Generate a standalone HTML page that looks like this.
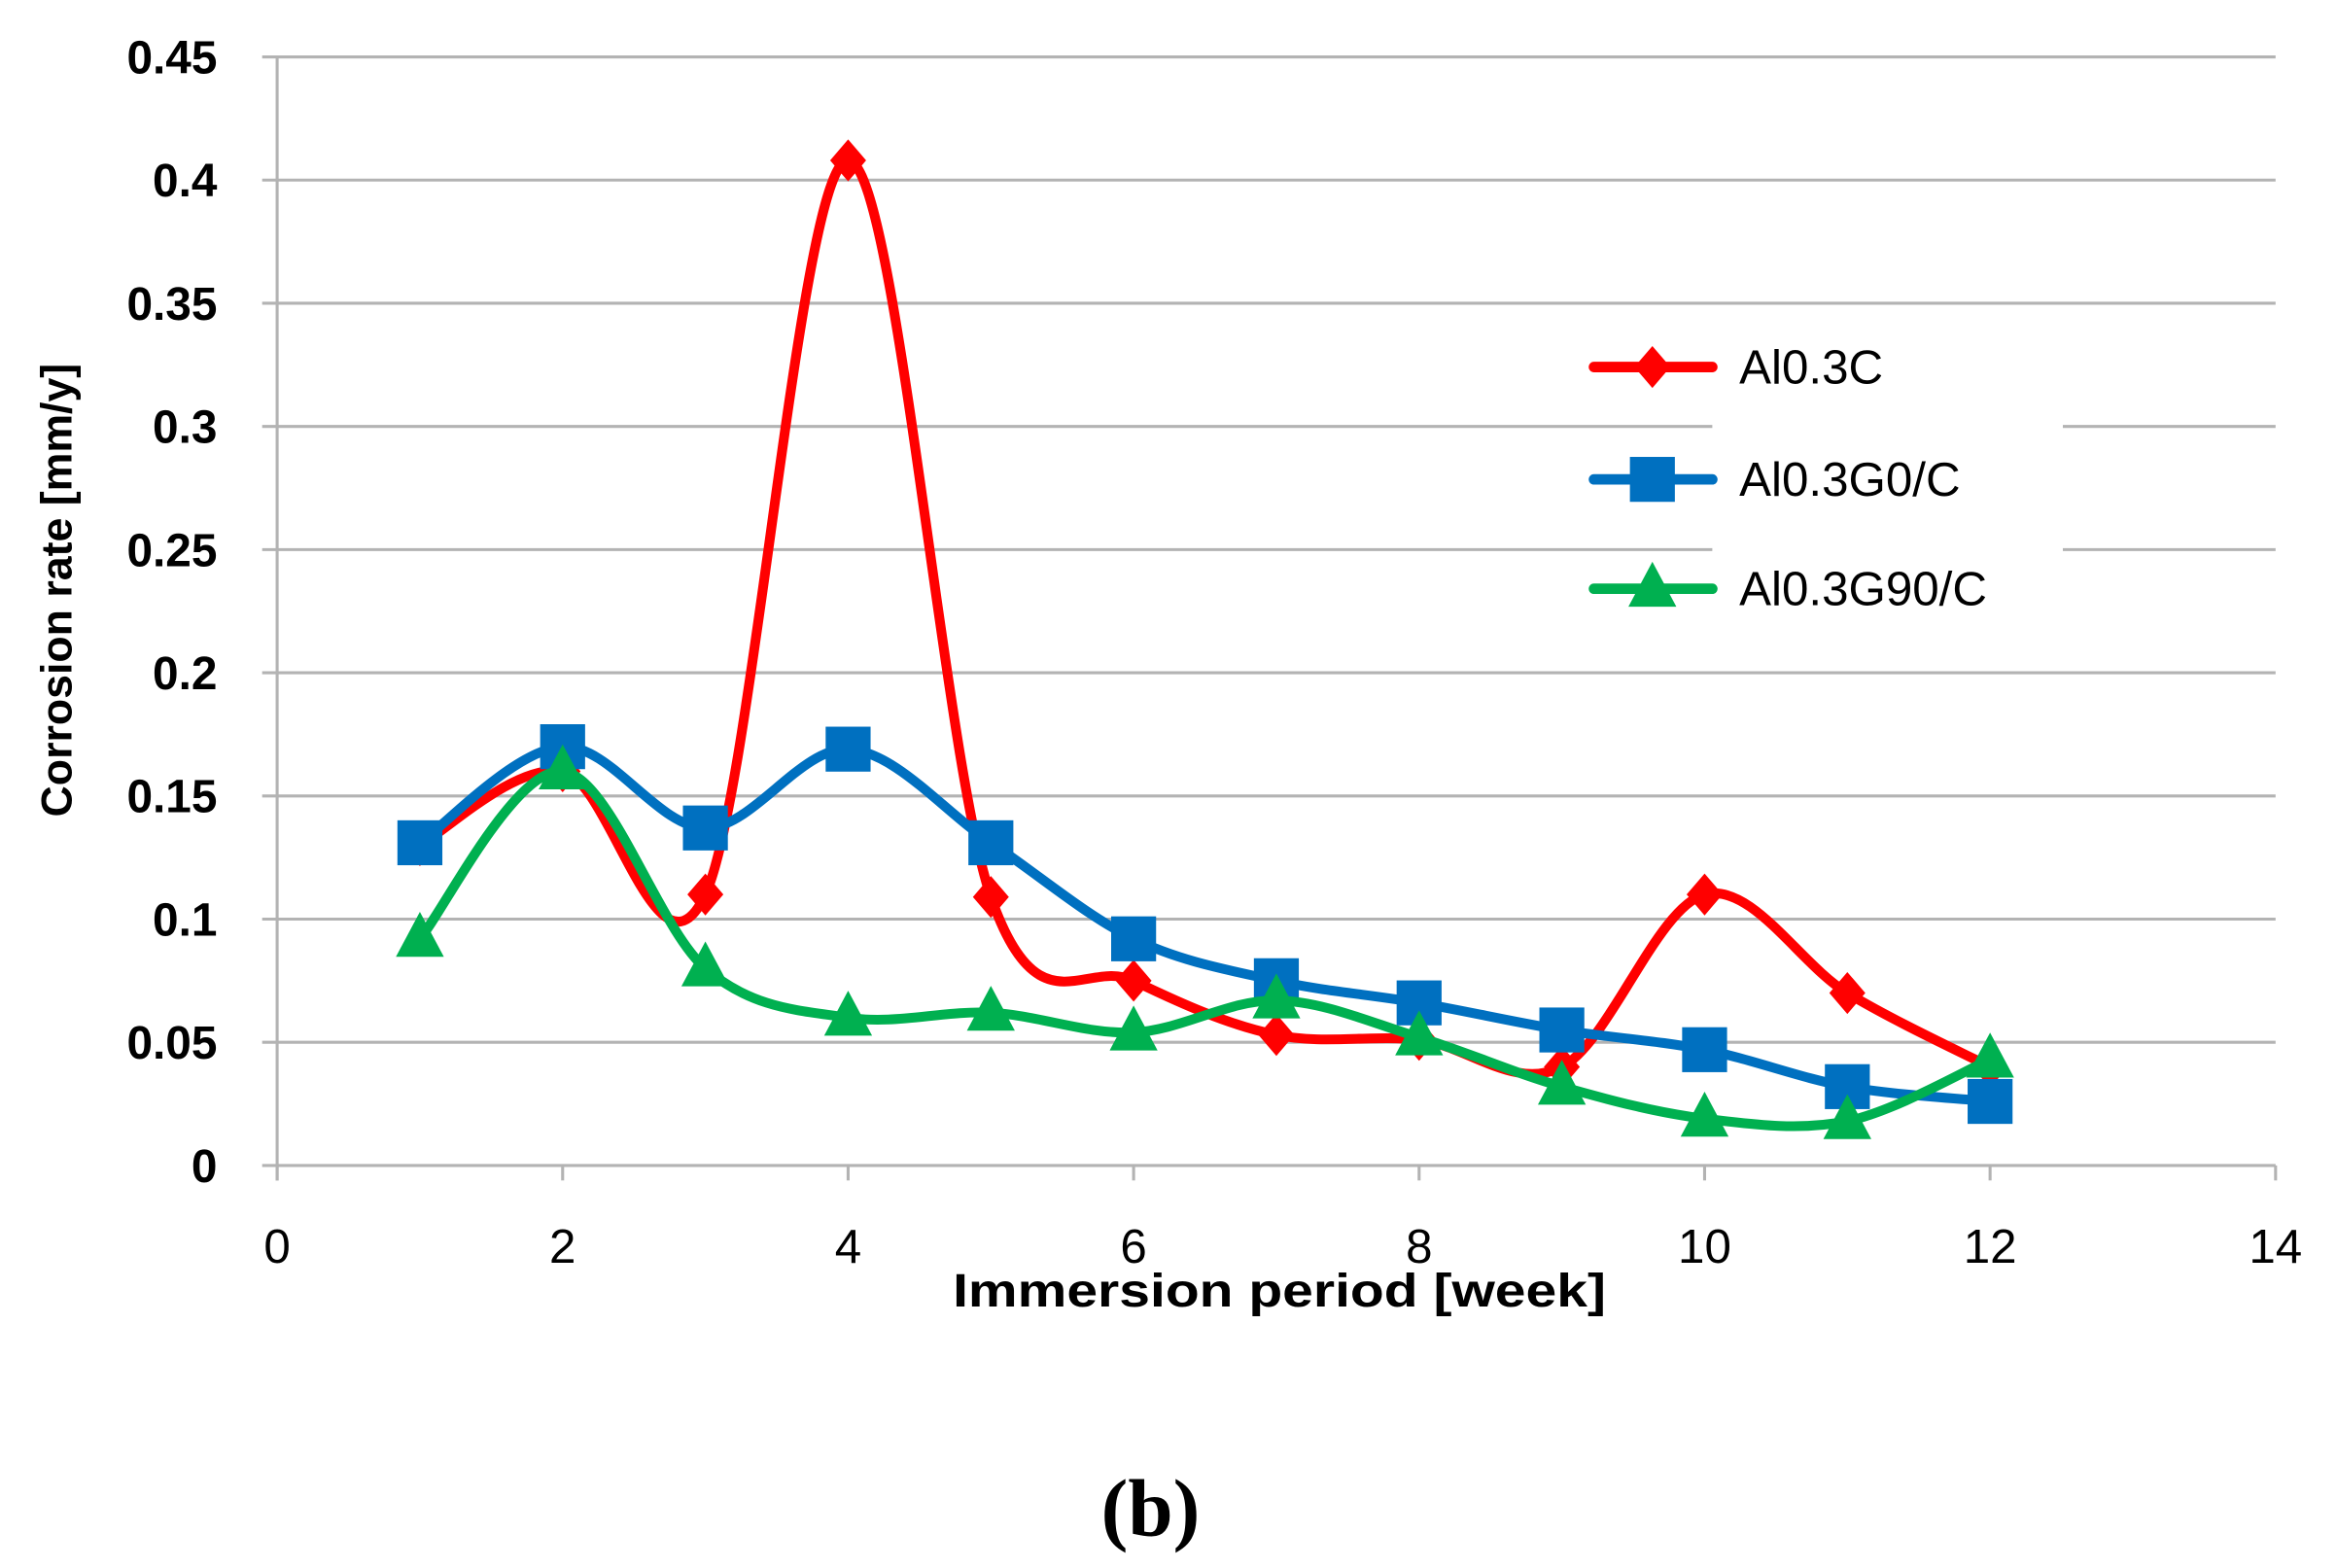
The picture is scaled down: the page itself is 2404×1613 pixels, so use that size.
<!DOCTYPE html>
<html><head><meta charset="utf-8"><style>
html,body{margin:0;padding:0;background:#fff;}
svg{display:block;}
text{font-family:"Liberation Sans","DejaVu Sans",sans-serif;}
</style></head><body>
<svg id="chart" width="2404" height="1613" viewBox="0 0 1560 1046.7" xmlns="http://www.w3.org/2000/svg">
<g id="grid"></g>
<g id="axes"></g>
<g id="series"></g>
<rect x="1143" y="275" width="234" height="110" fill="#fff"/>
<g id="legend"></g>
<text x="40" y="394" transform="rotate(-90 40 394)" text-anchor="middle" dominant-baseline="middle" font-size="29" font-weight="bold">Corrosion  rate [mm/y]</text>
<text x="854" y="872" text-anchor="middle" font-size="31" font-weight="bold" textLength="436" lengthAdjust="spacingAndGlyphs">Immersion period [week]</text>
<text x="768" y="1025" text-anchor="middle" font-size="54" font-weight="bold" style="font-family:'Liberation Serif',serif">(b)</text>
</svg>
<script>
const weeks = [1,2,3,4,5,6,7,8,9,10,11,12];
const al03c = [0.13,0.16,0.11,0.408,0.109,0.075,0.053,0.051,0.04,0.11,0.07,0.04];
const al03g0c = [0.131,0.17,0.137,0.169,0.131,0.092,0.075,0.066,0.055,0.047,0.032,0.026];
const al03g90c = [0.092,0.16,0.08,0.06,0.062,0.054,0.067,0.052,0.032,0.019,0.018,0.043];
const yTicks = [0,0.05,0.1,0.15,0.2,0.25,0.3,0.35,0.4,0.45];
const yTickLabels = ["0","0.05","0.1","0.15","0.2","0.25","0.3","0.35","0.4","0.45"];
const xTicks = [0,2,4,6,8,10,12,14];
const seriesNames = ["Al0.3C","Al0.3G0/C","Al0.3G90/C"];

const NS="http://www.w3.org/2000/svg";
const X0=185,X1=1519,Y0=778,Y1=38;
const xs=v=>X0+(v-0)/(14-0)*(X1-X0);
const ys=v=>Y0-(v-0)/(0.45-0)*(Y0-Y1);
function mk(tag,attrs,parent){const e=document.createElementNS(NS,tag);for(const k in attrs)e.setAttribute(k,attrs[k]);parent.appendChild(e);return e;}
const grid=document.getElementById('grid'),axes=document.getElementById('axes'),ser=document.getElementById('series'),leg=document.getElementById('legend');

yTicks.forEach((t,i)=>{
  const l=mk('line',{x1:175,x2:X1,y1:ys(t),y2:ys(t),stroke:'#b3b3b3','stroke-width':2},i===0?axes:grid);
  
  
  const tx=mk('text',{x:145,y:ys(t)+11,'text-anchor':'end','font-size':31,'font-weight':'bold'},axes);
  tx.textContent=yTickLabels[i];
  
  
});
const ya=mk('line',{x1:X0,x2:X0,y1:Y1,y2:Y0+10,stroke:'#b3b3b3','stroke-width':2},axes);


xTicks.forEach(t=>{
  const l=mk('line',{x1:xs(t),x2:xs(t),y1:Y0,y2:Y0+10,stroke:'#b3b3b3','stroke-width':2},axes);
  
  
  const tx=mk('text',{x:xs(t),y:843,'text-anchor':'middle','font-size':32},axes);
  tx.textContent=String(t);
  
  
});

function smooth(pts){
  let d=`M${pts[0][0]},${pts[0][1]}`;
  for(let i=0;i<pts.length-1;i++){
    const p0=pts[i-1]||pts[i],p1=pts[i],p2=pts[i+1],p3=pts[i+2]||p2;
    const k=1/6;
    const c1=[p1[0]+(p2[0]-p0[0])*k,p1[1]+(p2[1]-p0[1])*k];
    const c2=[p2[0]-(p3[0]-p1[0])*k,p2[1]-(p3[1]-p1[1])*k];
    d+=` C${c1[0]},${c1[1]} ${c2[0]},${c2[1]} ${p2[0]},${p2[1]}`;
  }
  return d;
}
function marker(kind,x,y,color,parent){
  let e;
  if(kind==='diamond') e=mk('polygon',{points:`${x},${y-14} ${x+12},${y} ${x},${y+14} ${x-12},${y}`,fill:color},parent);
  else if(kind==='square') e=mk('rect',{x:x-15,y:y-15,width:30,height:30,fill:color},parent);
  else e=mk('polygon',{points:`${x},${y-18} ${x+16},${y+12} ${x-16},${y+12}`,fill:color},parent);
  return e;
}
const defs=[[al03c,'#ff0000','diamond'],[al03g0c,'#0070c0','square'],[al03g90c,'#00b050','triangle']];
defs.forEach(([vals,color,kind],si)=>{
  const g=mk('g',{},ser);
  
  
  const pts=weeks.map((w,i)=>[xs(w),ys(vals[i])]);
  const p=mk('path',{d:smooth(pts),fill:'none',stroke:color,'stroke-width':6.5,'stroke-linejoin':'round','stroke-linecap':'round'},g);
  
  
  pts.forEach(pt=>{
    const m=marker(kind,pt[0],pt[1],color,g);
    
    
  });
  const ly=[245,320,393][si];
  const lg=mk('g',{},leg);
  
  
  mk('line',{x1:1064,x2:1143,y1:ly,y2:ly,stroke:color,'stroke-width':7,'stroke-linecap':'round'},lg);
  marker(kind,1103,ly,color,lg);
  const t=mk('text',{x:1161,y:ly+11,'font-size':32},lg);
  t.textContent=seriesNames[si];
});
</script>
</body></html>
